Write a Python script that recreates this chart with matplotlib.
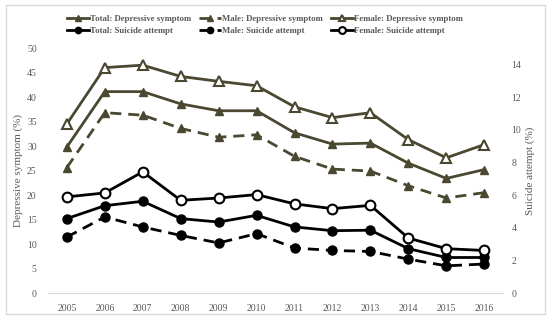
import matplotlib.pyplot as plt
from matplotlib.patches import Rectangle

plt.rcParams['font.family'] = ['Liberation Serif', 'DejaVu Serif']

years = [2005, 2006, 2007, 2008, 2009, 2010, 2011, 2012, 2013, 2014, 2015, 2016]

# depressive symptom (%) - left axis
dep_total = [29.8, 41.1, 41.1, 38.6, 37.2, 37.2, 32.7, 30.4, 30.6, 26.5, 23.4, 25.2]
dep_male = [25.6, 36.8, 36.3, 33.6, 31.8, 32.3, 27.9, 25.3, 24.9, 21.9, 19.4, 20.5]
dep_female = [34.5, 46.0, 46.5, 44.2, 43.2, 42.3, 38.0, 35.8, 36.8, 31.3, 27.6, 30.3]

# suicide attempt (%) - right axis
sui_total = [4.56, 5.35, 5.62, 4.56, 4.35, 4.76, 4.05, 3.82, 3.85, 2.72, 2.18, 2.18]
sui_male = [3.43, 4.66, 4.05, 3.53, 3.07, 3.64, 2.76, 2.61, 2.55, 2.08, 1.67, 1.78]
sui_female = [5.89, 6.13, 7.42, 5.68, 5.82, 6.03, 5.46, 5.17, 5.37, 3.37, 2.72, 2.61]

olive = '#4a4830'
txt = '#595959'

fig = plt.figure(figsize=(5.5, 3.2), dpi=100)
fig.patches.append(Rectangle((0.011, 0.02), 0.98, 0.965, transform=fig.transFigure,
                             fill=False, edgecolor='#d9d9d9', linewidth=1))
ax = fig.add_axes([0.087, 0.084, 0.828, 0.766])
ax2 = ax.twinx()

lw = 2.0
h_td, = ax.plot(years, dep_total, '-', color=olive, lw=lw, marker='^', ms=6,
                mfc=olive, mec=olive, label='Total: Depressive symptom')
h_md, = ax.plot(years, dep_male, '--', color=olive, lw=lw, marker='^', ms=6,
                mfc=olive, mec=olive, label='Male: Depressive symptom', dashes=(4, 2.5))
h_fd, = ax.plot(years, dep_female, '-', color=olive, lw=lw, marker='^', ms=7,
                mfc='white', mec=olive, mew=1.5, label='Female: Depressive symptom')

h_ts, = ax2.plot(years, sui_total, '-', color='black', lw=lw, marker='o', ms=6.5,
                 mfc='black', mec='black', label='Total: Suicide attempt')
h_ms, = ax2.plot(years, sui_male, '--', color='black', lw=lw, marker='o', ms=6.5,
                 mfc='black', mec='black', label='Male: Suicide attempt', dashes=(4, 2.5))
h_fs, = ax2.plot(years, sui_female, '-', color='black', lw=lw, marker='o', ms=7,
                 mfc='white', mec='black', mew=1.5, label='Female: Suicide attempt')

ax.set_xlim(2004.5, 2016.5)
ax.set_ylim(0, 50)
ax.set_yticks(range(0, 51, 5))
ax2.set_ylim(0, 15)
ax2.set_yticks(range(0, 15, 2))
ax.set_xticks(years)

for a in (ax, ax2):
    for s in ('top', 'left', 'right'):
        a.spines[s].set_visible(False)
    a.spines['bottom'].set_color('#d9d9d9')
    a.tick_params(length=0, labelsize=7, colors=txt)
ax.tick_params(axis='x', pad=8)
ax.tick_params(axis='y', pad=8)
ax2.tick_params(axis='y', pad=6)

ax.set_ylabel('Depressive symptom (%)', fontsize=8, color=txt, labelpad=3)
ax2.set_ylabel('Suicide attempt (%)', fontsize=8, color=txt, labelpad=3)

handles = [h_td, h_ts, h_md, h_ms, h_fd, h_fs]
leg = fig.legend(handles=handles, loc='center', ncol=3, bbox_to_anchor=(0.482, 0.922),
                 frameon=False, fontsize=6.3, handlelength=2.5, columnspacing=0.9,
                 labelspacing=0.45, handletextpad=0.15, markerscale=0.7)
for t in leg.get_texts():
    t.set_color(txt)
    t.set_fontweight('bold')

fig.savefig('out.png', dpi=100)
